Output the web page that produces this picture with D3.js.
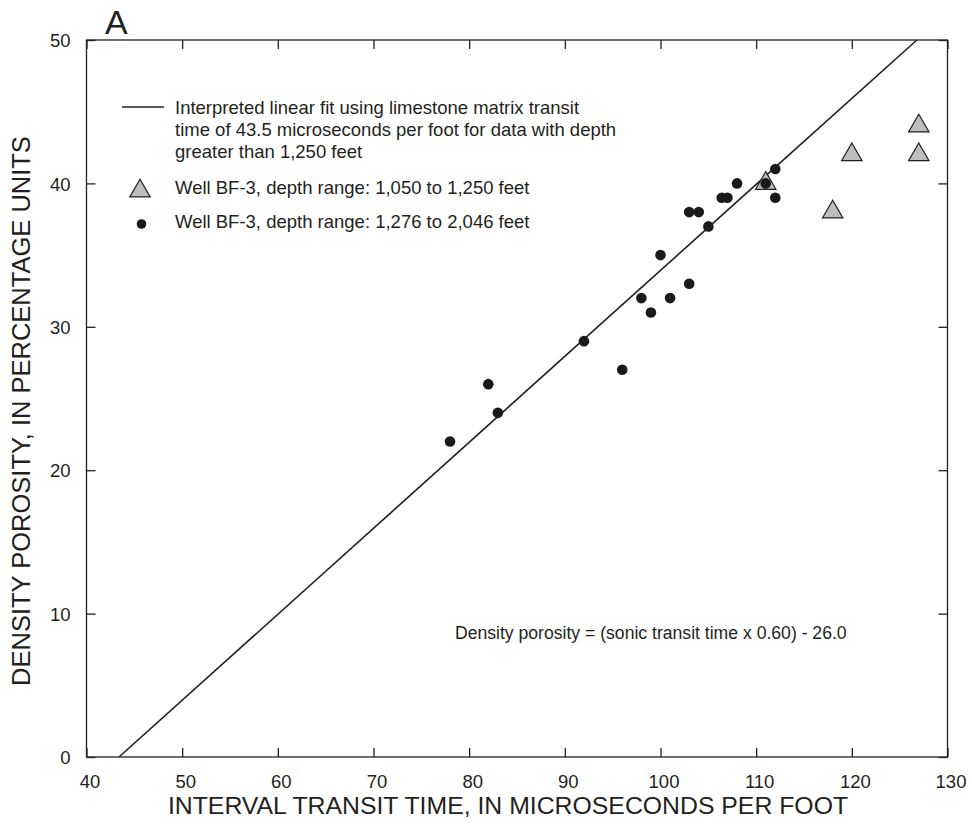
<!DOCTYPE html>
<html>
<head>
<meta charset="utf-8">
<script src="https://cdn.jsdelivr.net/npm/d3@7"></script>
<style>
  html, body { margin: 0; padding: 0; background: #fff; }
  svg { display: block; font-family: "Liberation Sans", Arial, Helvetica, sans-serif; }
</style>
</head>
<body>
<svg id="chart" width="972" height="839"></svg>
<script>
// ---- data ----
const xTicks = [40, 50, 60, 70, 80, 90, 100, 110, 120, 130];
const yTicks = [0, 10, 20, 30, 40, 50];

// Well BF-3, depth range 1,276 to 2,046 feet (dots)
const dotTransit  = [78, 82, 83, 92, 96, 98, 99, 100, 101, 103, 103, 104, 105, 106.4, 107, 108, 111, 112, 112];
const dotPorosity = [22, 26, 24, 29, 27, 32, 31, 35, 32, 33, 38, 38, 37, 39, 39, 40, 40, 41, 39];

// Well BF-3, depth range 1,050 to 1,250 feet (triangles)
const triTransit  = [111, 118, 120, 127, 127];
const triPorosity = [40, 38, 42, 42, 44];

// Interpreted linear fit end points
const fitTransit  = [43.4, 126.8];
const fitPorosity = [0, 50];

const legendFitLines = [
  "Interpreted linear fit using limestone matrix transit",
  "time of 43.5 microseconds per foot for data with depth",
  "greater than 1,250 feet"
];
const legendTri = "Well BF-3, depth range: 1,050 to 1,250 feet";
const legendDot = "Well BF-3, depth range: 1,276 to 2,046 feet";
const equation = "Density porosity = (sonic transit time x 0.60) - 26.0";
const xTitle = "INTERVAL TRANSIT TIME, IN MICROSECONDS PER FOOT";
const yTitle = "DENSITY POROSITY, IN PERCENTAGE UNITS";
const panel = "A";

// ---- layout ----
const L = 86.5, R = 947.5, T = 40, B = 757;
const ink = "#231f20";
const svg = d3.select("#chart");

const x = d3.scaleLinear().domain([40, 130]).range([L, R]);
const y = d3.scaleLinear().domain([0, 50]).range([B, T]);

// frame
svg.append("rect").attr("x", L).attr("y", T).attr("width", R - L).attr("height", B - T)
  .attr("fill", "none").attr("stroke", ink).attr("stroke-width", 1.3);

// axes with inward ticks
const tl = 9;
const axB = d3.axisBottom(x).tickValues(xTicks).tickSize(-tl).tickPadding(18).tickFormat(d3.format("d"));
const axT = d3.axisTop(x).tickValues(xTicks).tickSize(-tl).tickFormat("");
const axL = d3.axisLeft(y).tickValues(yTicks).tickSize(-tl).tickPadding(16).tickFormat(d3.format("d"));
const axR = d3.axisRight(y).tickValues(yTicks).tickSize(-tl).tickFormat("");

function style(g) {
  g.select(".domain").remove();
  g.selectAll(".tick line").attr("stroke", ink).attr("stroke-width", 1.3);
  g.selectAll(".tick text").attr("fill", ink).style("font-size", "18.5px")
    .style("font-family", "'Liberation Sans', Arial, sans-serif");
}
svg.append("g").attr("transform", `translate(0,${B})`).call(axB).call(style)
  .selectAll(".tick text").attr("dx", 3);
svg.append("g").attr("transform", `translate(0,${T})`).call(axT).call(style);
svg.append("g").attr("transform", `translate(${L},0)`).call(axL).call(style)
  .selectAll(".tick text").attr("dy", "0.36em");
svg.append("g").attr("transform", `translate(${R},0)`).call(axR).call(style);

// axis titles
svg.append("text").attr("x", 508).attr("y", 814).attr("text-anchor", "middle")
  .attr("fill", ink).style("font-size", "24.8px").text(xTitle);
svg.append("text").attr("transform", `translate(29.5,411) rotate(-90)`)
  .attr("text-anchor", "middle").attr("fill", ink).style("font-size", "25.5px").text(yTitle);

// panel letter
svg.append("text").attr("x", 105).attr("y", 34).attr("fill", ink).style("font-size", "34px").text(panel);

// fit line
const fit = fitTransit.map((t, i) => [t, fitPorosity[i]]);
svg.append("path").datum(fit)
  .attr("d", d3.line().x(d => x(d[0])).y(d => y(d[1])))
  .attr("fill", "none").attr("stroke", ink).attr("stroke-width", 1.6);

// triangles
const tri = d3.symbol().type(d3.symbolTriangle).size(180);
const triData = triTransit.map((t, i) => [t, triPorosity[i]]);
svg.append("g").selectAll("path").data(triData).join("path")
  .attr("d", tri)
  .attr("transform", d => `translate(${x(d[0])},${y(d[1])})`)
  .attr("fill", "#bebebe").attr("stroke", ink).attr("stroke-width", 1.2);

// dots
const dotData = dotTransit.map((t, i) => [t, dotPorosity[i]]);
svg.append("g").selectAll("circle").data(dotData).join("circle")
  .attr("cx", d => x(d[0])).attr("cy", d => y(d[1])).attr("r", 5.3)
  .attr("fill", "#1a1a1a");

// legend
const lg = svg.append("g");
lg.append("line").attr("x1", 122).attr("x2", 164).attr("y1", 107).attr("y2", 107)
  .attr("stroke", ink).attr("stroke-width", 1.6);
legendFitLines.forEach((s, i) => {
  lg.append("text").attr("x", 175).attr("y", 113.5 + i * 22).attr("fill", ink)
    .style("font-size", "18.5px").text(s);
});
lg.append("path").attr("d", tri).attr("transform", "translate(140,191)")
  .attr("fill", "#bebebe").attr("stroke", ink).attr("stroke-width", 1.2);
lg.append("text").attr("x", 175).attr("y", 193.5).attr("fill", ink).style("font-size", "18.5px").text(legendTri);
lg.append("circle").attr("cx", 141.5).attr("cy", 224).attr("r", 4.8).attr("fill", "#1a1a1a");
lg.append("text").attr("x", 175).attr("y", 228).attr("fill", ink).style("font-size", "18.5px").text(legendDot);

// equation
svg.append("text").attr("x", 455).attr("y", 639).attr("fill", ink).style("font-size", "17.6px").text(equation);
</script>
</body>
</html>
